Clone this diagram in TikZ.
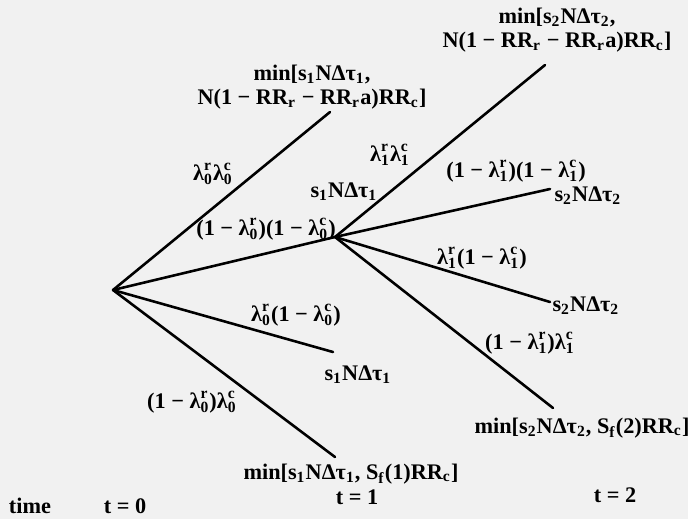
\documentclass[tikz,border=0pt]{standalone}
\usepackage{amsmath}
\usepackage{fontspec}
\setmainfont{Liberation Serif}
\usetikzlibrary{positioning}

\definecolor{paper}{RGB}{241,241,241}
\newcommand{\lam}[2]{$\text{λ}^{\text{#2}}_{\text{#1}}$}
\newcommand{\sbs}[2]{$\text{#1}_{\text{#2}}$}
\newcommand{\capline}{N(1 − R\sbs{R}{r} − R\sbs{R}{r}a)R\sbs{R}{c}]}

\begin{document}
\begin{tikzpicture}[x=0.015cm, y=-0.015cm,
    font=\fontsize{9.5}{10.5}\selectfont\bfseries,
    branch/.style={line width=1.1pt, line cap=round},
    lbl/.style={inner sep=1pt},
    leaf/.style={inner sep=1pt, align=center}]

  \fill[paper] (0,0) rectangle (688,519);
  \useasboundingbox (0,0) rectangle (688,519);

  % ===== nodos del arbol =====
  \coordinate (t0) at (113,290);
  \coordinate (t1) at (335,237);
  \coordinate (a1) at (330,112);
  \coordinate (a3) at (333,352);
  \coordinate (a4) at (335,457);
  \coordinate (b1) at (545,65);
  \coordinate (b2) at (550,189);
  \coordinate (b3) at (550,302);
  \coordinate (b4) at (553,408);

  % Ramas t = 0 -> t = 1
  \draw[branch] (t0) -- (a1);
  \draw[branch] (t0) -- (t1);
  \draw[branch] (t0) -- (a3);
  \draw[branch] (t0) -- (a4);

  % Ramas t = 1 -> t = 2
  \draw[branch] (t1) -- (b1);
  \draw[branch] (t1) -- (b2);
  \draw[branch] (t1) -- (b3);
  \draw[branch] (t1) -- (b4);

  % ===== hojas =====
  \node[leaf] (leafA1) at (312,87) {min[\sbs{s}{1}NΔ\sbs{τ}{1},\\ \capline};
  \node[leaf] (leafT1) at (344,192) {\sbs{s}{1}NΔ\sbs{τ}{1}};
  \node[leaf] (leafA3) at (358,375) {\sbs{s}{1}NΔ\sbs{τ}{1}};
  \node[leaf] (leafA4) at (351,474) {min[\sbs{s}{1}NΔ\sbs{τ}{1}, \sbs{S}{f}(1)R\sbs{R}{c}]};
  \node[leaf] (leafB1) at (557,30) {min[\sbs{s}{2}NΔ\sbs{τ}{2},\\ \capline};
  \node[leaf] (leafB2) at (588,196) {\sbs{s}{2}NΔ\sbs{τ}{2}};
  \node[leaf] (leafB3) at (586,306) {\sbs{s}{2}NΔ\sbs{τ}{2}};
  \node[leaf] (leafB4) at (582,428) {min[\sbs{s}{2}NΔ\sbs{τ}{2}, \sbs{S}{f}(2)R\sbs{R}{c}]};

  % ===== probabilidades =====
  \node[lbl] (p01) at (213,174) {\lam{0}{r}\lam{0}{c}};
  \node[lbl] (p02) at (266,229) {(1 − \lam{0}{r})(1 − \lam{0}{c})};
  \node[lbl] (p03) at (296,315) {\lam{0}{r}(1 − \lam{0}{c})};
  \node[lbl] (p04) at (192,402) {(1 − \lam{0}{r})\lam{0}{c}};
  \node[lbl] (p11) at (390,155) {\lam{1}{r}\lam{1}{c}};
  \node[lbl] (p12) at (516,171) {(1 − \lam{1}{r})(1 − \lam{1}{c})};
  \node[lbl] (p13) at (482,258) {\lam{1}{r}(1 − \lam{1}{c})};
  \node[lbl] (p14) at (530,343) {(1 − \lam{1}{r})\lam{1}{c}};

  % ===== eje temporal =====
  \node (time) at (30,506) {time};
  \node (tz) at (125,506) {t = 0};
  \node (to) at (357,497) {t = 1};
  \node (tt) at (615,495) {t = 2};
\end{tikzpicture}
\end{document}
